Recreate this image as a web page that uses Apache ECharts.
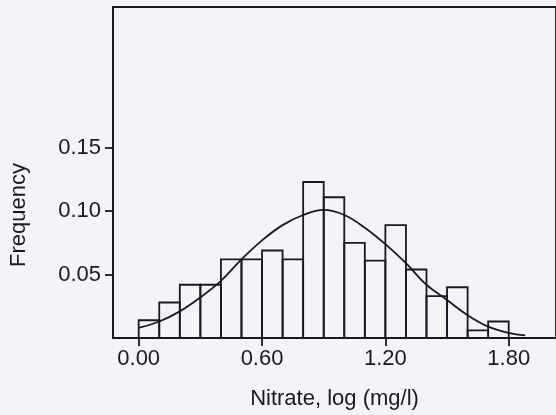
<!DOCTYPE html>
<html>
<head>
<meta charset="utf-8">
<script src="https://cdn.jsdelivr.net/npm/echarts@6/dist/echarts.min.js"></script>
<style>
html,body{margin:0;padding:0;background:#f3f3fa;}
#chart{width:556px;height:415px;}
</style>
</head>
<body>
<div id="chart"></div>
<script>
// Histogram bins (lower edges) and relative frequencies
var binLow = [0.0, 0.1, 0.2, 0.3, 0.4, 0.5, 0.6, 0.7, 0.8, 0.9, 1.0, 1.1, 1.2, 1.3, 1.4, 1.5, 1.6, 1.7];
var binWidth = 0.1;
var freq = [0.014, 0.028, 0.042, 0.042, 0.062, 0.062, 0.069, 0.062, 0.123, 0.111, 0.075, 0.061, 0.089, 0.054, 0.033, 0.040, 0.006, 0.013];

// Fitted normal curve
var curveX = [0.0, 0.1, 0.2, 0.3, 0.4, 0.5, 0.6, 0.7, 0.8, 0.9, 1.0, 1.1, 1.2, 1.3, 1.4, 1.5, 1.6, 1.7, 1.8, 1.88];
var curveY = [0.008, 0.013, 0.021, 0.032, 0.045, 0.062, 0.077, 0.089, 0.097, 0.101, 0.097, 0.087, 0.074, 0.059, 0.042, 0.030, 0.018, 0.009, 0.004, 0.002];

// Tick labels
var xTicks = [0.0, 0.6, 1.2, 1.8];
var yTicks = [0.05, 0.10, 0.15];

var xTitle = 'Nitrate, log (mg/l)';
var yTitle = 'Frequency';

var ink = '#1a1a1a';
var font = 'Liberation Sans, Arial';
var chart = echarts.init(document.getElementById('chart'));

var barData = binLow.map(function (lo, i) { return [lo, lo + binWidth, freq[i]]; });
var lineData = curveX.map(function (x, i) { return [x, curveY[i]]; });

chart.setOption({
  backgroundColor: '#f3f3fa',
  animation: false,
  grid: {
    left: 113, top: 7, right: -10, bottom: 74,
    show: true, borderColor: ink, borderWidth: 1.8, backgroundColor: 'transparent'
  },
  xAxis: {
    type: 'value', min: -0.125, max: 2.03,
    name: xTitle, nameLocation: 'middle', nameGap: 50,
    nameTextStyle: { fontFamily: font, fontSize: 22, color: ink },
    axisLine: { show: true, onZero: false, lineStyle: { color: ink, width: 1.8 } },
    axisTick: { show: true, length: 8, customValues: xTicks, lineStyle: { color: ink, width: 1.8 } },
    axisLabel: {
      customValues: xTicks, margin: 10,
      fontFamily: font, fontSize: 22, color: ink,
      formatter: function (v) { return v.toFixed(2); }
    },
    splitLine: { show: false }
  },
  yAxis: {
    type: 'value', min: 0, max: 0.261,
    axisLine: { show: true, onZero: false, lineStyle: { color: ink, width: 1.8 } },
    axisTick: { show: true, length: 8, customValues: yTicks, lineStyle: { color: ink, width: 1.8 } },
    axisLabel: {
      customValues: yTicks, margin: 12,
      fontFamily: font, fontSize: 22, color: ink,
      formatter: function (v) { return v.toFixed(2); }
    },
    splitLine: { show: false }
  },
  graphic: [{
    type: 'text', x: 19, y: 215, rotation: Math.PI / 2,
    style: {
      text: yTitle, fontFamily: font, fontSize: 22, fill: ink,
      textAlign: 'center', textVerticalAlign: 'middle'
    }
  }],
  series: [{
    type: 'custom',
    data: barData,
    encode: { x: [0, 1], y: 2 },
    renderItem: function (params, api) {
      var p0 = api.coord([api.value(0), api.value(2)]);
      var p1 = api.coord([api.value(1), 0]);
      return {
        type: 'rect',
        shape: { x: p0[0], y: p0[1], width: p1[0] - p0[0], height: p1[1] - p0[1] },
        style: { fill: 'transparent', stroke: ink, lineWidth: 1.8 }
      };
    },
    z: 2
  }, {
    type: 'line',
    data: lineData,
    smooth: 0.4,
    symbol: 'none',
    lineStyle: { color: ink, width: 1.8 },
    z: 3
  }]
});
</script>
</body>
</html>
